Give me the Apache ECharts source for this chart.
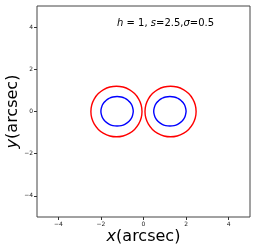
<!DOCTYPE html>
<html><head><meta charset="utf-8">
<script src="https://cdn.jsdelivr.net/npm/echarts@6/dist/echarts.min.js"></script>
<style>html,body{margin:0;padding:0;background:#fff}#c{width:256px;height:251px}</style>
</head><body><div id="c"></div>
<script>
const xTicks = [-4, -2, 0, 2, 4];
const yTicks = [-4, -2, 0, 2, 4];
const redLeft = [[-0.07,0],[-0.11,0.31],[-0.23,0.60],[-0.42,0.85],[-0.67,1.04],[-0.96,1.16],[-1.27,1.20],[-1.58,1.16],[-1.87,1.04],[-2.12,0.85],[-2.31,0.60],[-2.43,0.31],[-2.47,0],[-2.43,-0.31],[-2.31,-0.60],[-2.12,-0.85],[-1.87,-1.04],[-1.58,-1.16],[-1.27,-1.20],[-0.96,-1.16],[-0.67,-1.04],[-0.42,-0.85],[-0.23,-0.60],[-0.11,-0.31],[-0.07,0]];
const redRight = [[2.47,0],[2.43,0.31],[2.31,0.60],[2.12,0.85],[1.87,1.04],[1.58,1.16],[1.27,1.20],[0.96,1.16],[0.67,1.04],[0.42,0.85],[0.23,0.60],[0.11,0.31],[0.07,0],[0.11,-0.31],[0.23,-0.60],[0.42,-0.85],[0.67,-1.04],[0.96,-1.16],[1.27,-1.20],[1.58,-1.16],[1.87,-1.04],[2.12,-0.85],[2.31,-0.60],[2.43,-0.31],[2.47,0]];
const blueLeft = [[-0.48,0.01],[-0.51,0.19],[-0.58,0.36],[-0.70,0.50],[-0.86,0.62],[-1.04,0.69],[-1.24,0.71],[-1.44,0.69],[-1.62,0.62],[-1.78,0.50],[-1.90,0.36],[-1.97,0.19],[-2.00,0.01],[-1.97,-0.17],[-1.90,-0.34],[-1.78,-0.48],[-1.62,-0.60],[-1.44,-0.67],[-1.24,-0.69],[-1.04,-0.67],[-0.86,-0.60],[-0.70,-0.48],[-0.58,-0.34],[-0.51,-0.17],[-0.48,0.01]];
const blueRight = [[2.00,0.01],[1.97,0.19],[1.90,0.36],[1.78,0.50],[1.62,0.62],[1.44,0.69],[1.24,0.71],[1.04,0.69],[0.86,0.62],[0.70,0.50],[0.58,0.36],[0.51,0.19],[0.48,0.01],[0.51,-0.17],[0.58,-0.34],[0.70,-0.48],[0.86,-0.60],[1.04,-0.67],[1.24,-0.69],[1.44,-0.67],[1.62,-0.60],[1.78,-0.48],[1.90,-0.34],[1.97,-0.17],[2.00,0.01]];

const fmt = v => (v < 0 ? '\u2212' + Math.abs(v) : String(v));
const font = 'DejaVu Sans';
function line(data, color) {
  return {type:'line', data, smooth:0.5, showSymbol:false, symbol:'none',
    lineStyle:{color, width:1.4}, animation:false, silent:true};
}
const chart = echarts.init(document.getElementById('c'), null, {renderer:'canvas'});
chart.setOption({
  animation:false,
  grid:{left:37, right:6, top:6, bottom:34, containLabel:false, outerBoundsMode:'none', show:true, borderColor:'#444', borderWidth:1, backgroundColor:'transparent'},
  xAxis:{type:'value', min:-5, max:5,
    axisLine:{show:false, onZero:false}, splitLine:{show:false},
    axisTick:{show:true, inside:false, length:3, customValues:xTicks, lineStyle:{color:'#333'}},
    axisLabel:{customValues:xTicks, formatter:fmt, fontSize:6, color:'#222', fontFamily:font, margin:4},
    name:'{i|x}(arcsec)', nameLocation:'middle', nameGap:12, nameMoveOverlap:false,
    nameTextStyle:{fontSize:16, color:'#000', fontFamily:font, rich:{i:{fontSize:16, fontStyle:'italic', fontFamily:font, color:'#000'}}}
  },
  yAxis:{type:'value', min:-5, max:5,
    axisLine:{show:false, onZero:false}, splitLine:{show:false},
    axisTick:{show:true, inside:false, length:3, customValues:yTicks, lineStyle:{color:'#333'}},
    axisLabel:{customValues:yTicks, formatter:fmt, fontSize:6, color:'#222', fontFamily:font, margin:4},
    name:'{i|y}(arcsec)', nameLocation:'middle', nameGap:16, nameMoveOverlap:false,
    nameTextStyle:{fontSize:16, color:'#000', fontFamily:font, rich:{i:{fontSize:16, fontStyle:'italic', fontFamily:font, color:'#000'}}}
  },
  graphic:[{type:'text', left:117, top:18, style:{
    text:'{i|h} = 1, {i|s}=2.5,{i|σ}=0.5', font:'10px "DejaVu Sans"', fill:'#000',
    rich:{i:{fontStyle:'italic', fontSize:10, fontFamily:font, fill:'#000'}}
  }}],
  series:[line(redLeft,'#ff0000'), line(redRight,'#ff0000'), line(blueLeft,'#0000ff'), line(blueRight,'#0000ff')]
});
</script></body></html>
